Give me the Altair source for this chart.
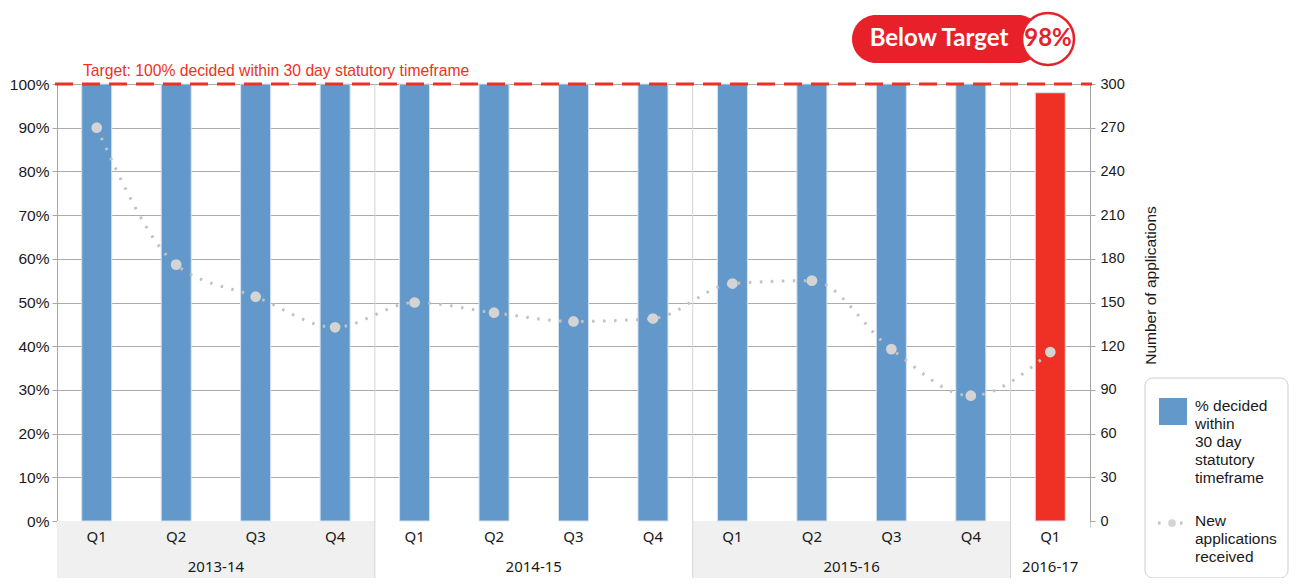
import altair as alt
import pandas as pd

# ---- data ----
years = ["2013-14"] * 4 + ["2014-15"] * 4 + ["2015-16"] * 4 + ["2016-17"]
quarters = ["Q1", "Q2", "Q3", "Q4"] * 3 + ["Q1"]
pct_decided = [100, 100, 100, 100, 100, 100, 100, 100, 100, 100, 100, 100, 98]
new_apps = [270, 176, 154, 133, 150, 143, 137, 139, 163, 165, 118, 86, 116]
status = ["On target"] * 12 + ["Below target"]

target_label = "Target: 100% decided within 30 day statutory timeframe"
badge_label = "Below Target"
badge_value = "98%"
legend_bar_label = ["% decided", "within", "30 day", "statutory", "timeframe"]
legend_line_label = ["New", "applications", "received"]
right_title = "Number of applications"

BLUE = "#6398CA"
RED = "#EE3124"
GRID = "#ababab"
AXIS = "#a6a6a6"
TXT = "#1a1a1a"
LINEC = "#c2c2c2"
PTC = "#d4d4d4"

df = pd.DataFrame({"year": years, "quarter": quarters, "pct": pct_decided,
                   "apps": new_apps, "status": status})
df["pos"] = df.index + 0.5

yr = df.groupby("year", sort=False)["pos"].agg(["min", "max"]).reset_index()
yr["start"] = yr["min"] - 0.5
yr["end"] = yr["max"] + 0.5
yr["mid"] = (yr["start"] + yr["end"]) / 2
yr["shade"] = ["#f0f0f0" if i % 2 == 0 else "#ffffff" for i in range(len(yr))]
seps = yr.iloc[1:]

W, H = 1033, 437
xscale = alt.Scale(domain=[0, len(df)], nice=False, zero=False, padding=0)
xaxis = alt.Axis(values=list(range(len(df) + 1)), labels=False, ticks=True, tickSize=6,
                 tickColor="#c8c8c8", domainColor=AXIS, grid=False, title=None)

def X(field):
    return alt.X(f"{field}:Q", scale=xscale, axis=xaxis)

base = alt.Chart(df)
one = alt.Chart(pd.DataFrame({"k": [0]}))  # single row for decorations

shade = alt.Chart(yr).mark_rect().encode(
    x=X("start"), x2="end", y=alt.value(H), y2=alt.value(H + 70),
    fill=alt.Fill("shade:N", scale=None))

sep = alt.Chart(seps).mark_rule(color="#d4d4d4", strokeWidth=1).encode(
    x=X("start"), y=alt.value(0), y2=alt.value(H + 70))

qlab = base.mark_text(font="Noto Sans", fontSize=15, color=TXT, baseline="middle").encode(
    x=X("pos"), y=alt.value(453), text="quarter:N")

ylab = alt.Chart(yr).mark_text(font="Noto Sans", fontSize=15, color=TXT, baseline="middle").encode(
    x=X("mid"), y=alt.value(483), text="year:N")

bars = base.mark_bar(size=30, stroke="#d3e2f1", strokeWidth=1).encode(
    x=X("pos"),
    y=alt.Y("pct:Q", scale=alt.Scale(domain=[0, 100]),
            axis=alt.Axis(values=list(range(0, 101, 10)), labelExpr="datum.value + '%'",
                          title=None, grid=True, gridColor=GRID, gridWidth=1.2,
                          domainColor=AXIS, tickColor=AXIS, tickSize=5, labelPadding=3,
                          labelFontSize=15.5, labelFont="Liberation Sans", labelColor=TXT)),
    color=alt.Color("status:N", scale=alt.Scale(domain=["On target", "Below target"],
                                                range=[BLUE, RED]), legend=None))

target = one.mark_rule(color=RED, strokeDash=[18, 9], strokeWidth=3).encode(
    y=alt.datum(100), x=alt.value(-2), x2=alt.value(W + 2))

target_txt = one.mark_text(align="left", baseline="alphabetic", color=RED, fontSize=15.7,
                           font="Liberation Sans").encode(
    x=alt.value(26), y=alt.value(-8), text=alt.value(target_label))

# badge
badge_rect = one.mark_rect(color="#E8202A", cornerRadius=24).encode(
    x=alt.value(795), x2=alt.value(985), y=alt.value(-69), y2=alt.value(-21))
badge_circ = one.mark_circle(size=2700, fill="white", stroke="#E8202A", strokeWidth=2.5,
                             opacity=1).encode(x=alt.value(991), y=alt.value(-45))
badge_txt = one.mark_text(font="Lato", fontWeight="bold", fontSize=24, color="white",
                          baseline="middle").encode(
    x=alt.value(882), y=alt.value(-45), text=alt.value(badge_label))
badge_val = one.mark_text(font="Lato", fontWeight="bold", fontSize=24, color="#E8202A",
                          baseline="middle").encode(
    x=alt.value(991), y=alt.value(-45), text=alt.value(badge_value))

# legend
leg_box = one.mark_rect(fill="white", stroke="#cccccc", strokeWidth=1, cornerRadius=8).encode(
    x=alt.value(1088), x2=alt.value(1231), y=alt.value(294), y2=alt.value(494))
leg_sw = one.mark_rect(color=BLUE).encode(
    x=alt.value(1102), x2=alt.value(1130), y=alt.value(314), y2=alt.value(341))
leg_t1 = one.mark_text(align="left", baseline="top", font="Liberation Sans", fontSize=15.5,
                       color=TXT, lineHeight=18).encode(
    x=alt.value(1138), y=alt.value(315), text=alt.value(legend_bar_label))
leg_ln = one.mark_rule(color=LINEC, strokeDash=[2.5, 8.5], strokeWidth=3).encode(
    x=alt.value(1101), x2=alt.value(1128), y=alt.value(439))
leg_pt = one.mark_circle(size=60, color=PTC, opacity=1).encode(
    x=alt.value(1115), y=alt.value(439))
leg_t2 = one.mark_text(align="left", baseline="top", font="Liberation Sans", fontSize=15.5,
                       color=TXT, lineHeight=18).encode(
    x=alt.value(1138), y=alt.value(430), text=alt.value(legend_line_label))

left = alt.layer(shade, sep, qlab, ylab, bars, target, target_txt,
                 badge_rect, badge_circ, badge_txt, badge_val,
                 leg_box, leg_sw, leg_t1, leg_ln, leg_pt, leg_t2)

yapps = alt.Y("apps:Q", scale=alt.Scale(domain=[0, 300]),
              axis=alt.Axis(orient="right", values=list(range(0, 301, 30)), grid=False,
                            title=right_title, titleAngle=270, titleX=60, titleY=201,
                            titleAlign="center", titleBaseline="middle",
                            titleFont="Liberation Sans", titleFontSize=15.5,
                            titleFontWeight="normal", titleColor=TXT,
                            domainColor=AXIS, tickColor=AXIS, tickSize=5, labelPadding=5,
                            labelFontSize=14.5, labelFont="Liberation Sans", labelColor=TXT))
line = base.mark_line(interpolate="monotone", color=LINEC, strokeDash=[2.5, 8.5],
                      strokeWidth=3).encode(x=X("pos"), y=yapps)
pts = base.mark_circle(size=115, color=PTC, opacity=1).encode(x=X("pos"), y=yapps)
right = alt.layer(line, pts)

chart = alt.layer(left, right).resolve_scale(y="independent").properties(
    width=W, height=H,
    padding={"left": 49, "top": 76, "right": 200, "bottom": 57},
    autosize=alt.AutoSizeParams(type="none"),
).configure_view(stroke=None).configure(background="white")

chart.save("out.html", embed_options={"renderer": "svg", "actions": False})
